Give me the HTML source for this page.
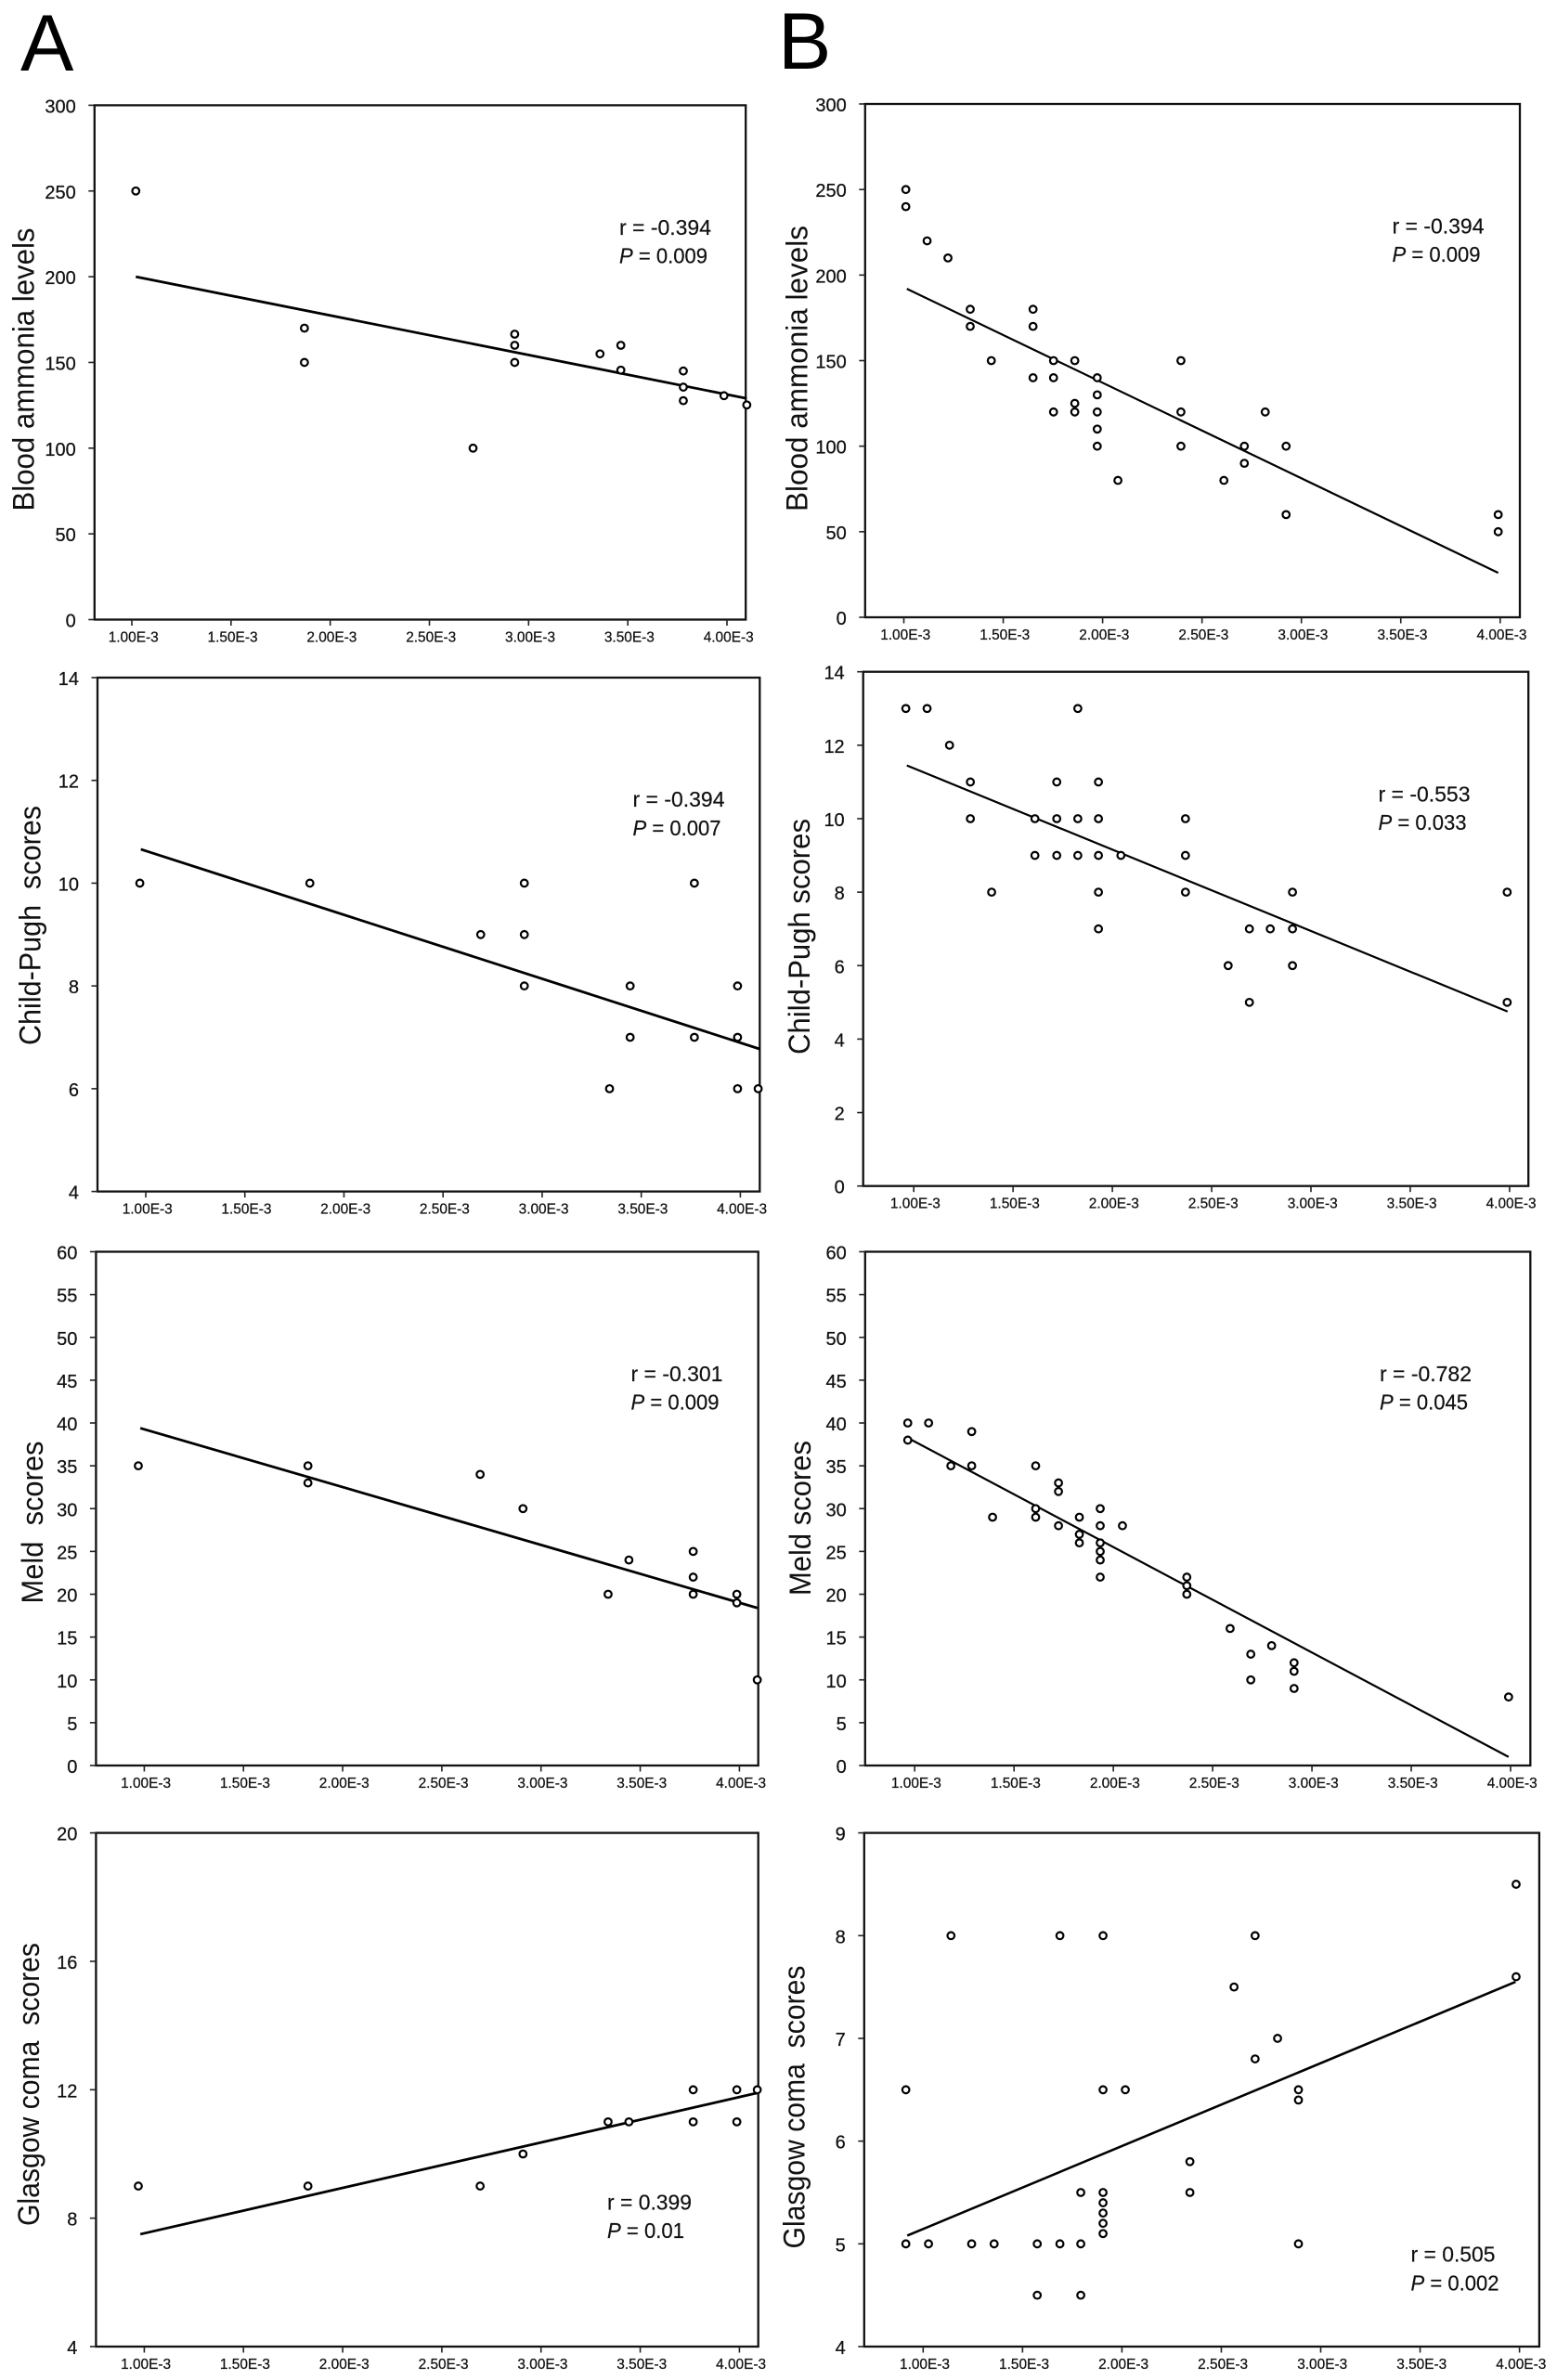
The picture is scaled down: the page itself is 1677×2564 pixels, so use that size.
<!DOCTYPE html>
<html lang="en">
<head>
<meta charset="utf-8">
<title>Correlation scatter plots</title>
<style>
html,body{margin:0;padding:0;background:#fff;width:1677px;height:2564px;overflow:hidden}
svg{display:block}
text{font-family:"Liberation Sans",sans-serif;fill:#111}
.panel{font-size:86px;fill:#000}
.axis-title{font-size:32.5px;fill:#111}
.stat{font-size:23px;stroke:#111;stroke-width:.2px}
.ytick{font-size:20px;text-anchor:end;stroke:#111;stroke-width:.25px}
.xtick{font-size:15.5px;text-anchor:middle;stroke:#111;stroke-width:.25px}
</style>
</head>
<body>
<svg id="figure" width="1677" height="2564" viewBox="0 0 1677 2564" xmlns="http://www.w3.org/2000/svg">
  <text class="panel" x="22" y="76">A</text>
  <text class="panel" x="838" y="74">B</text>

  <g id="chart-a1">
    <text class="axis-title" transform="translate(36.5 398) rotate(-90)" text-anchor="middle" textLength="305" lengthAdjust="spacingAndGlyphs">Blood ammonia levels</text>
  </g>
  <g id="chart-b1">
    <text class="axis-title" transform="translate(869.5 397) rotate(-90)" text-anchor="middle" textLength="308" lengthAdjust="spacingAndGlyphs">Blood ammonia levels</text>
  </g>
  <g id="chart-a2">
    <text class="axis-title" transform="translate(43.5 997) rotate(-90)" text-anchor="middle" textLength="258" lengthAdjust="spacingAndGlyphs">Child-Pugh&#160; scores</text>
  </g>
  <g id="chart-b2">
    <text class="axis-title" transform="translate(872 1009) rotate(-90)" text-anchor="middle" textLength="254" lengthAdjust="spacingAndGlyphs">Child-Pugh scores</text>
  </g>
  <g id="chart-a3">
    <text class="axis-title" transform="translate(46 1640) rotate(-90)" text-anchor="middle" textLength="175" lengthAdjust="spacingAndGlyphs">Meld&#160; scores</text>
  </g>
  <g id="chart-b3">
    <text class="axis-title" transform="translate(873 1635.5) rotate(-90)" text-anchor="middle" textLength="167" lengthAdjust="spacingAndGlyphs">Meld scores</text>
  </g>
  <g id="chart-a4">
    <text class="axis-title" transform="translate(42 2245.5) rotate(-90)" text-anchor="middle" textLength="305" lengthAdjust="spacingAndGlyphs">Glasgow coma&#160; scores</text>
  </g>
  <g id="chart-b4">
    <text class="axis-title" transform="translate(866.5 2270) rotate(-90)" text-anchor="middle" textLength="305" lengthAdjust="spacingAndGlyphs">Glasgow coma&#160; scores</text>
  </g>

  <g id="stats">
    <text class="stat" x="667" y="253" textLength="99" lengthAdjust="spacingAndGlyphs">r = -0.394</text>
    <text class="stat" x="667" y="283.5" textLength="95" lengthAdjust="spacingAndGlyphs"><tspan font-style="italic">P</tspan> = 0.009</text>
    <text class="stat" x="1499.5" y="251.5" textLength="99" lengthAdjust="spacingAndGlyphs">r = -0.394</text>
    <text class="stat" x="1499.5" y="282" textLength="95" lengthAdjust="spacingAndGlyphs"><tspan font-style="italic">P</tspan> = 0.009</text>
    <text class="stat" x="681.5" y="869" textLength="99" lengthAdjust="spacingAndGlyphs">r = -0.394</text>
    <text class="stat" x="681.5" y="900" textLength="95" lengthAdjust="spacingAndGlyphs"><tspan font-style="italic">P</tspan> = 0.007</text>
    <text class="stat" x="1484.5" y="863.5" textLength="99" lengthAdjust="spacingAndGlyphs">r = -0.553</text>
    <text class="stat" x="1484.5" y="894" textLength="95" lengthAdjust="spacingAndGlyphs"><tspan font-style="italic">P</tspan> = 0.033</text>
    <text class="stat" x="679.5" y="1488" textLength="99" lengthAdjust="spacingAndGlyphs">r = -0.301</text>
    <text class="stat" x="679.5" y="1518.5" textLength="95" lengthAdjust="spacingAndGlyphs"><tspan font-style="italic">P</tspan> = 0.009</text>
    <text class="stat" x="1486" y="1488" textLength="99" lengthAdjust="spacingAndGlyphs">r = -0.782</text>
    <text class="stat" x="1486" y="1518.5" textLength="95" lengthAdjust="spacingAndGlyphs"><tspan font-style="italic">P</tspan> = 0.045</text>
    <text class="stat" x="654" y="2380.5" textLength="91" lengthAdjust="spacingAndGlyphs">r = 0.399</text>
    <text class="stat" x="654" y="2411" textLength="83" lengthAdjust="spacingAndGlyphs"><tspan font-style="italic">P</tspan> = 0.01</text>
    <text class="stat" x="1519.5" y="2436.5" textLength="91" lengthAdjust="spacingAndGlyphs">r = 0.505</text>
    <text class="stat" x="1519.5" y="2467.5" textLength="95" lengthAdjust="spacingAndGlyphs"><tspan font-style="italic">P</tspan> = 0.002</text>
  </g>
</svg>

<script>
/* Shared axis values */
const xTickValues = [1, 1.5, 2, 2.5, 3, 3.5, 4];
const xTickLabels = ["1.00E-3", "1.50E-3", "2.00E-3", "2.50E-3", "3.00E-3", "3.50E-3", "4.00E-3"];
const yTicksAmmonia = [0, 50, 100, 150, 200, 250, 300];
const yTicksChildA = [4, 6, 8, 10, 12, 14];
const yTicksChildB = [0, 2, 4, 6, 8, 10, 12, 14];
const yTicksMeld = [0, 5, 10, 15, 20, 25, 30, 35, 40, 45, 50, 55, 60];
const yTicksGlasgowA = [4, 8, 12, 16, 20];
const yTicksGlasgowB = [4, 5, 6, 7, 8, 9];

/* A: blood ammonia (x in units of 1E-3) */
const a1X = [1.02, 1.87, 1.87, 2.72, 2.93, 2.93, 2.93, 3.36, 3.465, 3.465, 3.78, 3.78, 3.78, 3.985, 4.10];
const a1Y = [250, 170, 150, 100, 166.5, 160, 150, 155, 160, 145.5, 145, 135.6, 127.7, 130.6, 125.2];
const a1TrendX = [1.02, 4.10];
const a1TrendY = [200, 129];

/* B: blood ammonia */
const b1X = [1.01, 1.01, 1.117, 1.222, 1.334, 1.334, 1.44, 1.65, 1.65, 1.65, 1.753, 1.753, 1.753, 1.86, 1.86, 1.86, 1.973, 1.973, 1.973, 1.973, 1.973, 2.077, 2.394, 2.394, 2.394, 2.61, 2.713, 2.713, 2.818, 2.923, 2.923, 3.99, 3.99];
const b1Y = [250, 240, 220, 210, 180, 170, 150, 180, 170, 140, 150, 140, 120, 150, 125, 120, 140, 130, 120, 110, 100, 80, 150, 120, 100, 80, 100, 90, 120, 100, 60, 60, 50];
const b1TrendX = [1.015, 3.99];
const b1TrendY = [192, 26];

/* A: Child-Pugh */
const a2X = [0.97, 1.828, 2.69, 2.91, 2.91, 2.91, 3.34, 3.444, 3.444, 3.768, 3.768, 3.986, 3.986, 3.986, 4.09];
const a2Y = [10, 10, 9, 10, 9, 8, 6, 8, 7, 10, 7, 8, 7, 6, 6];
const a2TrendX = [0.975, 4.1];
const a2TrendY = [10.66, 6.77];

/* B: Child-Pugh */
const b2X = [0.96, 1.067, 1.18, 1.285, 1.285, 1.392, 1.61, 1.61, 1.72, 1.72, 1.72, 1.826, 1.826, 1.826, 1.93, 1.93, 1.93, 1.93, 1.93, 2.043, 2.368, 2.368, 2.368, 2.583, 2.69, 2.69, 2.795, 2.907, 2.907, 2.907, 3.988, 3.988];
const b2Y = [13, 13, 12, 11, 10, 8, 10, 9, 11, 10, 9, 13, 10, 9, 11, 10, 9, 8, 7, 9, 10, 9, 8, 6, 7, 5, 7, 8, 7, 6, 8, 5];
const b2TrendX = [0.965, 3.99];
const b2TrendY = [11.45, 4.75];

/* A: Meld */
const a3X = [0.97, 1.825, 1.825, 2.693, 2.909, 3.338, 3.443, 3.767, 3.767, 3.767, 3.987, 3.987, 4.09];
const a3Y = [35, 35, 33, 34, 30, 20, 24, 25, 22, 20, 20, 19, 10];
const a3TrendX = [0.98, 4.09];
const a3TrendY = [39.4, 18.4];

/* B: Meld */
const b3X = [0.965, 0.965, 1.07, 1.182, 1.287, 1.287, 1.392, 1.609, 1.609, 1.609, 1.724, 1.724, 1.724, 1.829, 1.829, 1.829, 1.934, 1.934, 1.934, 1.934, 1.934, 1.934, 2.046, 2.37, 2.37, 2.37, 2.588, 2.692, 2.692, 2.797, 2.91, 2.91, 2.91, 3.99];
const b3Y = [40, 38, 40, 35, 39, 35, 29, 35, 30, 29, 33, 32, 28, 29, 27, 26, 30, 28, 26, 25, 24, 22, 28, 22, 21, 20, 16, 13, 10, 14, 12, 11, 9, 8];
const b3TrendX = [0.97, 3.99];
const b3TrendY = [38.2, 1];

/* A: Glasgow coma */
const a4X = [0.97, 1.825, 2.693, 2.909, 3.338, 3.443, 3.767, 3.767, 3.987, 3.987, 4.09];
const a4Y = [9, 9, 9, 10, 11, 11, 12, 11, 12, 11, 12];
const a4TrendX = [0.98, 4.09];
const a4TrendY = [7.5, 11.9];

/* B: Glasgow coma */
const b4X = [0.913, 0.913, 1.027, 1.14, 1.244, 1.357, 1.574, 1.574, 1.688, 1.688, 1.793, 1.793, 1.793, 1.905, 1.905, 1.905, 1.905, 1.905, 1.905, 1.905, 2.017, 2.342, 2.342, 2.564, 2.67, 2.67, 2.783, 2.888, 2.888, 2.888, 3.983, 3.983];
const b4Y = [6.5, 5, 5, 8, 5, 5, 5, 4.5, 8, 5, 5.5, 5, 4.5, 8, 6.5, 5.5, 5.4, 5.3, 5.2, 5.1, 6.5, 5.8, 5.5, 7.5, 8, 6.8, 7, 6.5, 6.4, 5, 8.5, 7.6];
const b4TrendX = [0.92, 3.98];
const b4TrendY = [5.08, 7.55];

/* Plot geometry lives apart from the data */
const charts = [
  {id:"chart-a1", xs:a1X, ys:a1Y, tx:a1TrendX, ty:a1TrendY, yTicks:yTicksAmmonia,  box:[101.8,803.2,113.4,667.5],   xPx:[142,783],       trend:2.8},
  {id:"chart-b1", xs:b1X, ys:b1Y, tx:b1TrendX, ty:b1TrendY, yTicks:yTicksAmmonia,  box:[931.8,1637,112,665],        xPx:[973.5,1615.8],  trend:2.2},
  {id:"chart-a2", xs:a2X, ys:a2Y, tx:a2TrendX, ty:a2TrendY, yTicks:yTicksChildA,   box:[105,818.3,730,1283.6],      xPx:[157,797.4],     trend:2.8},
  {id:"chart-b2", xs:b2X, ys:b2Y, tx:b2TrendX, ty:b2TrendY, yTicks:yTicksChildB,   box:[929.7,1646.2,723.7,1277.7], xPx:[984.2,1625.9],  trend:2.2},
  {id:"chart-a3", xs:a3X, ys:a3Y, tx:a3TrendX, ty:a3TrendY, yTicks:yTicksMeld,     box:[103.4,816.7,1348.5,1902],   xPx:[155.4,796.4],   trend:2.8},
  {id:"chart-b3", xs:b3X, ys:b3Y, tx:b3TrendX, ty:b3TrendY, yTicks:yTicksMeld,     box:[931.8,1648.3,1348.5,1902],  xPx:[985.2,1627],    trend:2.2},
  {id:"chart-a4", xs:a4X, ys:a4Y, tx:a4TrendX, ty:a4TrendY, yTicks:yTicksGlasgowA, box:[103.4,816.7,1974.6,2528],   xPx:[155.4,796.4],   trend:2.8},
  {id:"chart-b4", xs:b4X, ys:b4Y, tx:b4TrendX, ty:b4TrendY, yTicks:yTicksGlasgowB, box:[930.8,1657.9,1974.6,2528],  xPx:[994.3,1636.6],  trend:2.6}
];

const NS = "http://www.w3.org/2000/svg";
function make(tag, attrs, parent) {
  const el = document.createElementNS(NS, tag);
  for (const k in attrs) el.setAttribute(k, attrs[k]);
  parent.appendChild(el);
  return el;
}

function drawChart(c) {
  const g = document.getElementById(c.id);
  const [left, right, top, bottom] = c.box;
  const yMin = c.yTicks[0];
  const yMax = c.yTicks[c.yTicks.length - 1];
  const xFirst = xTickValues[0];
  const xLast = xTickValues[xTickValues.length - 1];
  const xScale = v => c.xPx[0] + (v - xFirst) * (c.xPx[1] - c.xPx[0]) / (xLast - xFirst);
  const yScale = v => bottom - (v - yMin) * (bottom - top) / (yMax - yMin);

  const frame = make("rect", {x:left, y:top, width:right-left, height:bottom-top, fill:"none", stroke:"#111", "stroke-width":2.3}, g);
  
  

  c.yTicks.forEach(v => {
    const y = yScale(v);
    const tick = make("line", {x1:left-6.5, x2:left, y1:y, y2:y, stroke:"#222", "stroke-width":1.6}, g);
    
    
    const label = make("text", {class:"ytick", x:left-20, y:y+8}, g);
    
    
    label.textContent = String(v);
  });

  xTickValues.forEach((v, i) => {
    const x = xScale(v);
    const tick = make("line", {x1:x, x2:x, y1:bottom, y2:bottom+6.5, stroke:"#222", "stroke-width":1.6}, g);
    
    
    const label = make("text", {class:"xtick", x:x+1.7, y:bottom+24, textLength:54, lengthAdjust:"spacingAndGlyphs"}, g);
    
    
    label.textContent = xTickLabels[i];
  });

  const trend = make("line", {x1:xScale(c.tx[0]), y1:yScale(c.ty[0]), x2:xScale(c.tx[1]), y2:yScale(c.ty[1]), stroke:"#000", "stroke-width":c.trend}, g);
  
  

  c.xs.forEach((v, i) => {
    const dot = make("circle", {cx:xScale(v), cy:yScale(c.ys[i]), r:3.8, fill:"#fff", stroke:"#000", "stroke-width":2.2}, g);
    
    
  });
}

charts.forEach(drawChart);
</script>
</body>
</html>
